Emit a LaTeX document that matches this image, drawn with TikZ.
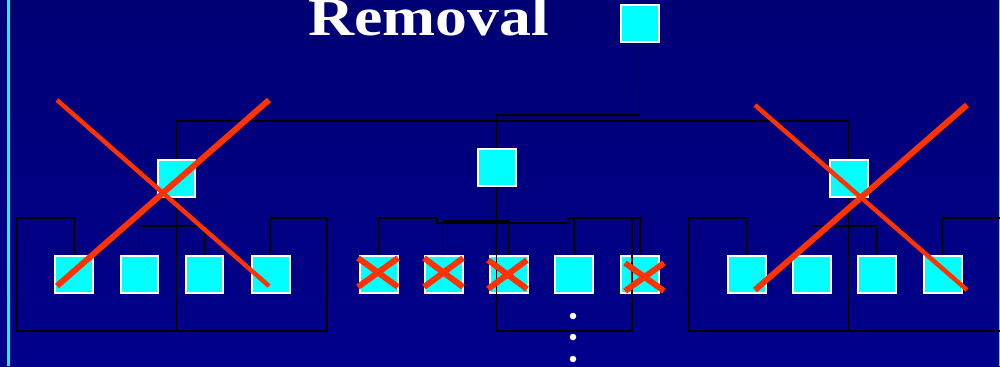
\documentclass[tikz,border=0pt]{standalone}
\usepackage{fontspec}
\setmainfont{Liberation Serif}
\begin{document}
\begin{tikzpicture}[x=0.02cm,y=-0.02cm,
  box/.style={rectangle,minimum width=0.76cm,minimum height=0.74cm,inner sep=0pt,fill=boxcyan,draw=white,line width=0.04cm},
  conn/.style={draw=black,line width=0.025cm},
  bigx/.style={draw=xred,line width=0.09cm},
  bigxx/.style={draw=xred,line width=0.12cm},
  smallx/.style={draw=xred,line width=0.12cm},
  dot/.style={circle,fill=white,inner sep=0pt,minimum size=0.13cm}]
\definecolor{xred}{RGB}{255,51,0}
\definecolor{boxcyan}{RGB}{0,255,255}
\definecolor{bgtop}{RGB}{0,0,116}
\definecolor{bgbot}{RGB}{0,0,140}
\useasboundingbox (0,0) rectangle (1000,366);
\shade[top color=bgtop,bottom color=bgbot] (0,0) rectangle (1000,366);
\fill[boxcyan] (7,0) rectangle (9.5,366);
\fill[boxcyan] (998.8,0) rectangle (1000,366);
% title
\node[anchor=base west,inner sep=0pt,text=white,font=\bfseries\fontsize{31pt}{33pt}\selectfont] (title) at (308,35) {\scalebox{1.17}[1]{Removal}};
% boxes
\node[box] (root) at (639.5,23.5) {};
\node[box] (L) at (176.5,178.5) {};
\node[box] (M) at (496.5,167) {};
\node[box] (R) at (848.5,178.5) {};
\foreach \n/\x in {la1/74,la2/139.5,la3/204.5,la4/270.5,mb1/378.5,mb2/443.5,mb3/508.5,mb4/574,mb5/640,rc1/746.5,rc2/811.5,rc3/876.5,rc4/942.5}
  \node[box] (\n) at (\x,274.5) {};
% coordinates
\coordinate (hL) at (176.5,121);
\coordinate (hR) at (848.5,121);
\coordinate (jm) at (496.5,115);
\coordinate (Lb) at (176.5,331);
\coordinate (Mb) at (496.5,331);
\coordinate (Rb) at (848.5,331);
% connectors top
\draw[conn] (L.north) -- (hL) -- (hR) -- (R.north);
\draw[conn] (root.south) -- (root.south |- hL);
\draw[conn] (M.north) -- (jm) -| (root.south);
% left group
\draw[conn] (L.south) -- (Lb);
\draw[conn] (la1.north) -- (74,218) -- (17,218) -- (17,331) -- (327,331) -- (327,218) -- (270.5,218) -- (la4.north);
\draw[conn] (la2.north) -- (139.5,226) -- (204.5,226) -- (la3.north);
% middle group
\draw[conn] (M.south) -- (Mb) -- (632,331) -- (632,218);
\draw[conn] (mb1.north) -- (378.5,218) -- (437,218) -- (437,223) -- (568,223) -- (568,218) -- (640,218) -- (mb5.north);
\draw[conn] (mb2.north) -- (443.5,221) -- (508.5,221) -- (mb3.north);
\draw[conn] (mb4.north) -- (574,218);
% right group
\draw[conn] (R.south) -- (Rb);
\draw[conn] (rc1.north) -- (746.5,218) -- (689,218) -- (689,331) -- (1000,331);
\draw[conn] (rc2.north) -- (811.5,226) -- (876.5,226) -- (rc3.north);
\draw[conn] (rc4.north) -- (942.5,218) -- (1000,218);
% dots
\node[dot] (d1) at (573,316) {};
\node[dot] (d2) at (573,337) {};
\node[dot] (d3) at (573,359) {};
% small crosses
\draw[smallx] (358,258) -- (398,287) (398,258) -- (358,287);
\draw[smallx] (424,258) -- (463,287) (463,258) -- (424,287);
\draw[smallx] (488,289) -- (527,260) (488,260) -- (527,289);
\draw[smallx] (625,263) -- (664,291) (664,263) -- (625,291);
% big crosses
\draw[bigx] (57,100) -- (269,286);
\draw[bigxx] (269,100) -- (57,286);
\draw[bigx] (755,105) -- (967,290);
\draw[bigxx] (967,105) -- (755,290);
\end{tikzpicture}
\end{document}
